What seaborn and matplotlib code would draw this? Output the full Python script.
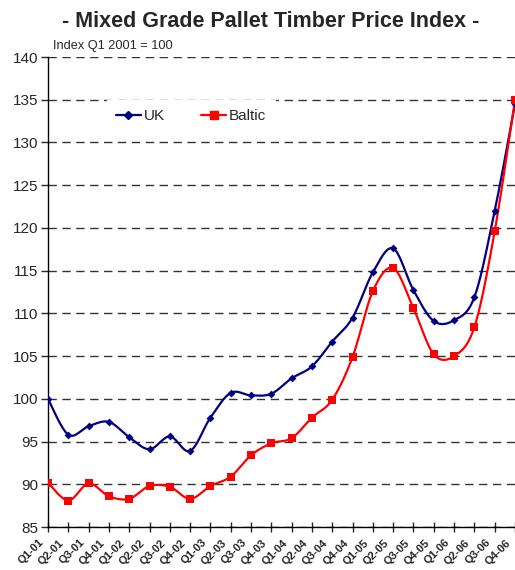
import numpy as np
import pandas as pd
import seaborn as sns
import matplotlib
matplotlib.use("Agg")
import matplotlib.pyplot as plt

sns.set_style("white")
plt.rcParams['font.family'] = ['Liberation Sans', 'DejaVu Sans']

quarters = ["Q1-01", "Q2-01", "Q3-01", "Q4-01", "Q1-02", "Q2-02", "Q3-02", "Q4-02",
            "Q1-03", "Q2-03", "Q3-03", "Q4-03", "Q1-04", "Q2-04", "Q3-04", "Q4-04",
            "Q1-05", "Q2-05", "Q3-05", "Q4-05", "Q1-06", "Q2-06", "Q3-06", "Q4-06"]
uk = [100.0, 95.8, 96.8, 97.3, 95.5, 94.1, 95.6, 93.9,
      97.8, 100.7, 100.4, 100.6, 102.4, 103.8, 106.7, 109.5,
      114.8, 117.6, 112.7, 109.1, 109.2, 111.9, 122.0, 134.5]
baltic = [90.2, 88.1, 90.1, 88.6, 88.3, 89.8, 89.7, 88.3,
          89.8, 90.9, 93.4, 94.8, 95.4, 97.8, 99.9, 104.9,
          112.6, 115.3, 110.6, 105.2, 105.0, 108.4, 119.6, 135.0]


def smooth(y, n=20):
    # Catmull-Rom style smoothing like Excel's smoothed lines
    y = np.asarray(y, dtype=float)
    x = np.arange(len(y), dtype=float)
    px = np.concatenate([[x[0]], x, [x[-1]]])
    py = np.concatenate([[y[0]], y, [y[-1]]])
    xs, ys = [], []
    for i in range(1, len(px) - 2):
        p0, p1, p2, p3 = px[i - 1], px[i], px[i + 1], px[i + 2]
        q0, q1, q2, q3 = py[i - 1], py[i], py[i + 1], py[i + 2]
        c1x, c1y = p1 + (p2 - p0) / 6, q1 + (q2 - q0) / 6
        c2x, c2y = p2 - (p3 - p1) / 6, q2 - (q3 - q1) / 6
        t = np.linspace(0, 1, n, endpoint=False)
        xs.append((1 - t) ** 3 * p1 + 3 * (1 - t) ** 2 * t * c1x + 3 * (1 - t) * t ** 2 * c2x + t ** 3 * p2)
        ys.append((1 - t) ** 3 * q1 + 3 * (1 - t) ** 2 * t * c1y + 3 * (1 - t) * t ** 2 * c2y + t ** 3 * q2)
    xs.append([x[-1]])
    ys.append([y[-1]])
    return np.concatenate(xs), np.concatenate(ys)


fig = plt.figure(figsize=(5.15, 5.7), dpi=100)
ax = fig.add_axes([0.0932, 0.0754, 0.9068, 0.8246])

series = [("UK", uk, "#000080", "D", 4), ("Baltic", baltic, "#FF0000", "s", 6)]
for name, vals, color, marker, ms in series:
    sx, sy = smooth(vals)
    sns.lineplot(x=sx, y=sy, ax=ax, color=color, linewidth=1.6, sort=False, zorder=3)
    sns.scatterplot(x=np.arange(len(vals)), y=vals, ax=ax, color=color, marker=marker,
                    s=ms ** 2, edgecolor=color, linewidth=0, zorder=4, clip_on=True)
    ax.plot([], [], color=color, marker=marker, ms=ms, lw=1.6, label=name)

ax.set_xlim(0, len(quarters) - 1)
ax.set_ylim(85, 140)
ax.set_yticks(range(85, 141, 5))
ax.set_xticks(range(len(quarters)))
ax.set_xticklabels([])
# rotated category labels, ending just left of each tick like the original
for i, q in enumerate(quarters):
    ax.annotate(q, xy=(i, 0), xycoords=ax.get_xaxis_transform(), xytext=(-6, -14),
                textcoords="offset pixels", rotation=45, ha="right", va="center",
                rotation_mode="anchor", fontsize=8, fontweight="bold", annotation_clip=False)
ax.tick_params(axis="y", labelsize=11, length=5, width=1, direction="out", left=True, pad=2)
ax.tick_params(axis="x", length=7, width=1, direction="inout", bottom=True)

ax.yaxis.grid(True, color="#333333", linestyle=(0, (6, 4)), linewidth=1)
ax.xaxis.grid(False)
for s in ["top", "right"]:
    ax.spines[s].set_visible(False)
for s in ["left", "bottom"]:
    ax.spines[s].set_color("black")
    ax.spines[s].set_linewidth(1)

leg = ax.legend(loc="upper left", bbox_to_anchor=(0.11, 0.925), ncol=2, frameon=True,
                fontsize=11, handlelength=1.6, columnspacing=2.4, handletextpad=0.2,
                borderpad=0.6, edgecolor="white", fancybox=False, framealpha=1)
leg.set_zorder(5)

fig.text(0.525, 0.963, "- Mixed Grade Pallet Timber Price Index -", ha="center", va="center",
         fontsize=15.5, fontweight="bold")
fig.text(0.102, 0.92, "Index Q1 2001 = 100", ha="left", va="center", fontsize=9.2)

fig.savefig("out.png", dpi=100)
